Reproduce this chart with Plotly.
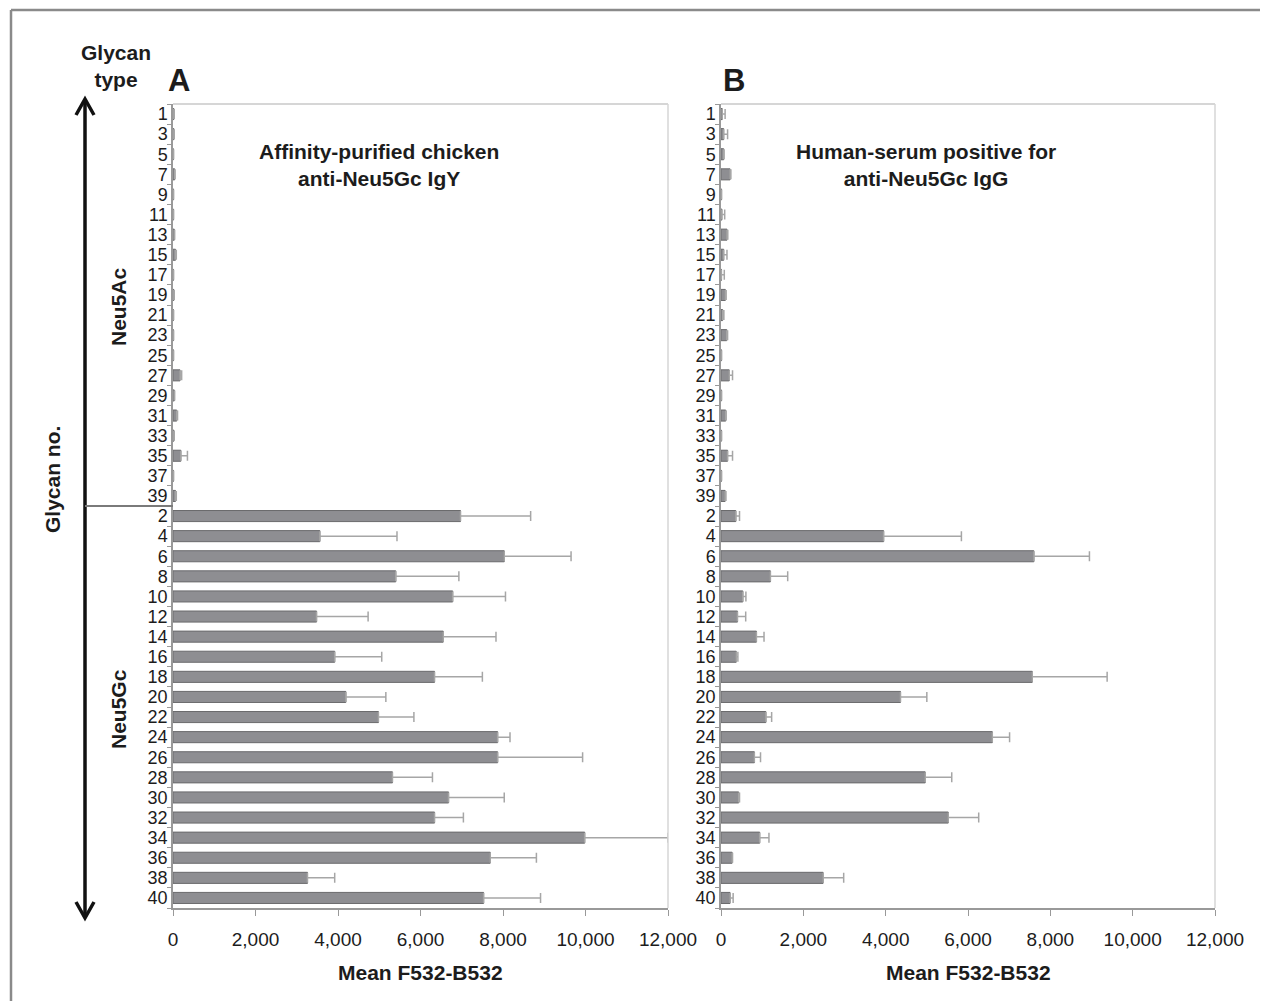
import plotly.graph_objects as go

W, H = 1268, 1001
PAGE_PAD = 8  # the page puts the figure 8px in from the corner

# glycan numbers, top to bottom: Neu5Ac (odd) then Neu5Gc (even)
neu5ac_ids = [str(i) for i in range(1, 40, 2)]
neu5gc_ids = [str(i) for i in range(2, 41, 2)]
glycans = neu5ac_ids + neu5gc_ids

# A: affinity-purified chicken anti-Neu5Gc IgY
chicken_ac = [20, 20, 10, 40, 10, 10, 30, 60, 10, 20, 10, 10, 10, 170, 30, 90, 20, 190, 10, 60]
chicken_ac_err = [10, 10, 5, 10, 5, 5, 10, 20, 5, 10, 5, 5, 5, 40, 10, 20, 10, 160, 5, 20]
chicken_gc = [6970, 3560, 8030, 5400, 6780, 3480, 6550, 3920, 6340, 4190,
              4980, 7870, 7870, 5320, 6680, 6340, 9980, 7690, 3260, 7530]
chicken_gc_err = [1700, 1870, 1620, 1530, 1280, 1250, 1280, 1140, 1160, 970,
                  860, 300, 2060, 970, 1350, 700, 2020, 1120, 660, 1380]

# B: human serum positive for anti-Neu5Gc IgG
human_ac = [30, 65, 65, 220, 10, 20, 145, 65, 10, 105, 40, 140, 10, 200, 10, 115, 10, 160, 10, 100]
human_ac_err = [70, 95, 10, 20, 5, 70, 20, 80, 70, 20, 30, 20, 5, 80, 5, 10, 5, 120, 5, 20]
human_gc = [360, 3950, 7600, 1200, 530, 400, 860, 370, 7560, 4360,
            1090, 6590, 810, 4960, 430, 5520, 940, 270, 2480, 220]
human_gc_err = [90, 1890, 1350, 420, 75, 200, 185, 40, 1820, 640,
                140, 420, 150, 645, 20, 740, 225, 10, 500, 75]

x_ticks = [0, 2000, 4000, 6000, 8000, 10000, 12000]

FONT = "Liberation Sans, Arial, sans-serif"
TXT = "#1c1c1c"


def px(x):
    return (x - PAGE_PAD) / W


def py(y):
    return 1 - (y - PAGE_PAD) / H


fig = go.Figure()

panels = [
    ("x", "y", chicken_ac + chicken_gc, chicken_ac_err + chicken_gc_err),
    ("x2", "y2", human_ac + human_gc, human_ac_err + human_gc_err),
]
for xa, ya, vals, errs in panels:
    fig.add_trace(go.Bar(
        y=glycans, x=vals, orientation="h", xaxis=xa, yaxis=ya,
        marker=dict(color="#8e8e92", line=dict(color="#6a6a6c", width=1)),
        error_x=dict(type="data", array=errs, arrayminus=[0] * len(errs), symmetric=False,
                     color="#a6a6a6", thickness=1.5, width=5),
        showlegend=False,
    ))

xaxis_style = dict(
    range=[0, 12000], tickvals=x_ticks, tickformat=",", showgrid=False, zeroline=False,
    ticks="outside", ticklen=6, tickcolor="#999", showline=True, linecolor="#999", linewidth=1.5,
    tickfont=dict(family=FONT, size=19, color=TXT), ticklabelstandoff=7,
    automargin=False, fixedrange=True,
)
yaxis_style = dict(
    type="category", categoryorder="array", categoryarray=glycans, autorange="reversed",
    tickmode="array", tickvals=glycans, ticktext=glycans,
    tickson="boundaries", ticks="outside", ticklen=4, tickcolor="#999",
    showline=True, linecolor="#999", linewidth=1.5, showgrid=False, zeroline=False,
    tickfont=dict(family=FONT, size=18, color=TXT), domain=[py(908), py(104)],
    automargin=False,
)

fig.update_layout(
    width=W, height=H, margin=dict(l=0, r=0, t=0, b=0, autoexpand=False),
    paper_bgcolor="white", plot_bgcolor="white", bargap=0.45,
    xaxis=dict(xaxis_style, domain=[px(173), px(668)], anchor="y"),
    yaxis=dict(yaxis_style, anchor="x"),
    xaxis2=dict(xaxis_style, domain=[px(721), px(1215)], anchor="y2"),
    yaxis2=dict(yaxis_style, anchor="x2"),
)

shapes = []
# light frame on top and right of each plot area
for xr, yr in [("x domain", "y domain"), ("x2 domain", "y2 domain")]:
    shapes.append(dict(type="line", xref=xr, yref=yr, x0=0, x1=1, y0=1, y1=1,
                       line=dict(color="#d6d6d6", width=2)))
    shapes.append(dict(type="line", xref=xr, yref=yr, x0=1, x1=1, y0=0, y1=1,
                       line=dict(color="#d6d6d6", width=1.5)))

# outer figure frame (left and top visible)
shapes.append(dict(type="line", xref="paper", yref="paper", x0=px(11), x1=1, y0=py(10), y1=py(10),
                   line=dict(color="#8a8a8a", width=2.5)))
shapes.append(dict(type="line", xref="paper", yref="paper", x0=px(11), x1=px(11), y0=py(10), y1=0,
                   line=dict(color="#8a8a8a", width=2.5)))

# double-headed glycan-type arrow
shapes.append(dict(type="line", xref="paper", yref="paper", x0=px(85), x1=px(85), y0=py(100), y1=py(917),
                   line=dict(color="#111", width=3.5)))
shapes.append(dict(type="path", xref="paper", yref="paper",
                   path=f"M {px(76)} {py(115)} L {px(85)} {py(99)} L {px(94)} {py(115)}",
                   line=dict(color="#111", width=3.5)))
shapes.append(dict(type="path", xref="paper", yref="paper",
                   path=f"M {px(76)} {py(902)} L {px(85)} {py(918)} L {px(94)} {py(902)}",
                   line=dict(color="#111", width=3.5)))
# separator between Neu5Ac and Neu5Gc groups
shapes.append(dict(type="line", xref="paper", yref="y", x0=px(85), x1=px(173), y0=19.5, y1=19.5,
                   line=dict(color="#7a7a7a", width=2)))
fig.update_layout(shapes=shapes)


def note(text, x, y, size=21, angle=0, bold=True):
    t = f"<b>{text}</b>" if bold else text
    fig.add_annotation(text=t, x=px(x), y=py(y), xref="paper", yref="paper",
                       xanchor="center", yanchor="middle",
                       showarrow=False, textangle=angle, align="center",
                       font=dict(family=FONT, size=size, color=TXT))


note("Glycan<br>type", 116, 66)
note("A", 179, 80, size=31)
note("B", 734, 80, size=31)
note("Affinity-purified chicken<br>anti-Neu5Gc IgY", 379, 165)
note("Human-serum positive for<br>anti-Neu5Gc IgG", 926, 165)
note("Neu5Ac", 118, 307, angle=-90)
note("Neu5Gc", 118, 709, angle=-90)
note("Glycan no.", 52, 480, angle=-90)
note("Mean F532-B532", 420, 972)
note("Mean F532-B532", 969, 972)

fig.write_html("out.html")
